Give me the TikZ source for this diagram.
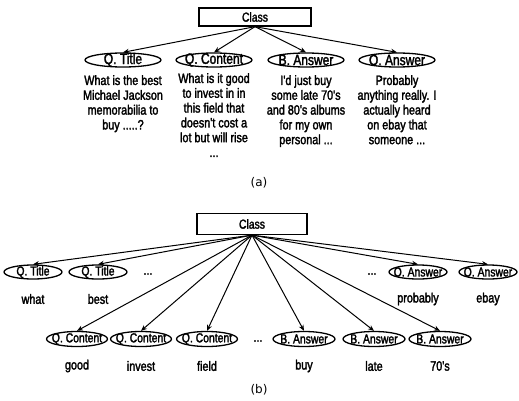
\documentclass[tikz,border=0pt]{standalone}
\usepackage{fontspec}
\setmainfont{Liberation Sans}
\newfontfamily\narrowfont[FakeStretch=0.8,FakeBold=2]{Liberation Sans}
\newfontfamily\capfont{DejaVu Sans}
\usetikzlibrary{shapes.geometric,arrows.meta}
\begin{document}
\begin{tikzpicture}[x=1pt,y=-1pt,
  clsbox/.style={draw,line width=1.3pt,minimum width=112pt,minimum height=18pt,inner sep=0pt,font=\narrowfont\fontsize{13}{14}\selectfont},
  % the ellipse size is fixed by minimum width/height; negative inner sep lets the text fill it
  biglbl/.style={draw,ellipse,line width=1.3pt,minimum width=76pt,minimum height=14pt,inner xsep=-14pt,inner ysep=-5pt,font=\narrowfont\fontsize{15}{15}\selectfont},
  smalllbl/.style={draw,ellipse,line width=1.3pt,minimum width=58pt,minimum height=14pt,inner xsep=-14pt,inner ysep=-5pt,font=\narrowfont\fontsize{13}{13}\selectfont},
  bodytxt/.style={anchor=north,align=center,inner sep=0pt,font=\narrowfont\fontsize{13.5}{14.8}\selectfont},
  wordtxt/.style={inner sep=0pt,font=\narrowfont\fontsize{13.5}{14}\selectfont},
  dotstxt/.style={inner sep=0pt,font=\narrowfont\fontsize{13}{14}\selectfont},
  captxt/.style={inner sep=0pt,font=\capfont\fontsize{12}{14}\selectfont},
  arr/.style={-{Stealth[length=6pt,width=5pt]},line width=1pt}]
\useasboundingbox (0,0) rectangle (519,401);

% ---------- (a) document-level view ----------
\node[clsbox] (clsA) at (255,17) {Class};
\node[biglbl] (qt) at (123,60) {Q. Title};
\node[biglbl] (qc) at (214,60) {Q. Content};
\node[biglbl] (ba) at (306,60) {B. Answer};
\node[biglbl] (oa) at (397,60) {O. Answer};
\foreach \n in {qt,qc,ba,oa} \draw[arr] (clsA.south) -- (\n.north);

\node[bodytxt] (tqt) at (123,75) {What is the best\\Michael Jackson\\memorabilia to\\buy .....?};
\node[bodytxt] (tqc) at (214,73) {What is it good\\to invest in in\\this field that\\doesn't cost a\\lot but will rise\\...};
\node[bodytxt] (tba) at (306,75) {I'd just buy\\some late 70's\\and 80's albums\\for my own\\personal ...};
\node[bodytxt] (toa) at (397,75) {Probably\\anything really. I\\actually heard\\on ebay that\\someone ...};
\node[captxt] (capA) at (259,183) {(a)};

% ---------- (b) word-level view ----------
\node[clsbox,minimum width=110pt,minimum height=21pt] (clsB) at (252,224) {Class};

\node[smalllbl] (t1) at (33,272) {Q. Title};
\node[smalllbl] (t2) at (98,272) {Q. Title};
\node[dotstxt] (d1) at (148,274) {...};
\node[dotstxt] (d2) at (372,274) {...};
\node[smalllbl] (o1) at (418,272) {O. Answer};
\node[smalllbl] (o2) at (488,272) {O. Answer};

\node[smalllbl,minimum width=61pt,minimum height=15pt] (c1) at (77,339) {Q. Content};
\node[smalllbl,minimum width=61pt,minimum height=15pt] (c2) at (141,339) {Q. Content};
\node[smalllbl,minimum width=61pt,minimum height=15pt] (c3) at (207,339) {Q. Content};
\node[dotstxt] (d3) at (258,341) {...};
\node[smalllbl,minimum width=62pt,minimum height=15pt] (b1) at (304,339) {B. Answer};
\node[smalllbl,minimum width=62pt,minimum height=15pt] (b2) at (374,339) {B. Answer};
\node[smalllbl,minimum width=62pt,minimum height=15pt] (b3) at (440,339) {B. Answer};

\foreach \n in {t1,t2,o1,o2,c1,c2,c3,b1,b2,b3} \draw[arr] (clsB.south) -- (\n.north);

\node[wordtxt] (w1) at (33,299) {what};
\node[wordtxt] (w2) at (98,299) {best};
\node[wordtxt] (w3) at (418,299) {probably};
\node[wordtxt] (w4) at (488,299) {ebay};
\node[wordtxt] (w5) at (77,366) {good};
\node[wordtxt] (w6) at (141,366) {invest};
\node[wordtxt] (w7) at (207,366) {field};
\node[wordtxt] (w8) at (304,366) {buy};
\node[wordtxt] (w9) at (374,366) {late};
\node[wordtxt] (w10) at (440,366) {70's};
\node[captxt] (capB) at (259,390) {(b)};
\end{tikzpicture}
\end{document}
